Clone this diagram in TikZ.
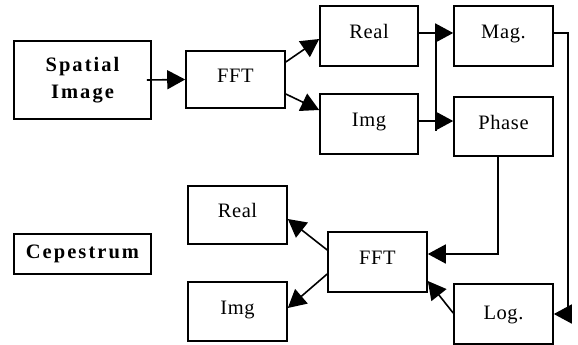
\documentclass[tikz,border=0pt]{standalone}
\usepackage{fontspec}
\setmainfont{Liberation Serif}[LetterSpace=3]
\newfontfamily\boldsp{Liberation Serif}[LetterSpace=10]
\usetikzlibrary{arrows.meta,calc}
\tikzset{
  box/.style={draw, line width=1.6pt, inner sep=0pt, text height=14pt, text depth=8.4pt,
    font=\fontsize{20.5}{27}\selectfont},
  bbox/.style={box, font=\boldsp\bfseries\fontsize{20.5}{27}\selectfont, align=center},
  conn/.style={line width=1.6pt, -{Triangle[length=18pt,width=19pt]}},
  plain/.style={line width=1.6pt}
}
\begin{document}
\begin{tikzpicture}[x=1pt,y=-1pt]
\useasboundingbox (0,0) rectangle (578,345);
\node[bbox, minimum width=137pt, minimum height=78pt, text height=, text depth=] (spatial) at (82.5,80) {Spatial\\Image};
\node[box, minimum width=99pt, minimum height=57pt] (fft1) at (235.5,79.5) {FFT};
\node[box, minimum width=98pt, minimum height=60pt] (real1) at (369,36) {Real};
\node[box, minimum width=99pt, minimum height=60pt] (mag) at (503.5,36) {Mag.};
\node[box, minimum width=98pt, minimum height=60pt] (img1) at (369,124) {Img};
\node[box, minimum width=99pt, minimum height=59pt] (phase) at (503.5,126.5) {Phase};
\node[box, minimum width=99pt, minimum height=58pt] (real2) at (237.5,215) {Real};
\node[box, minimum width=99pt, minimum height=59pt] (img2) at (237.5,311.5) {Img};
\node[bbox, minimum width=137pt, minimum height=40pt, text height=14pt, text depth=5pt] (cep) at (82.5,254) {Cepestrum};
\node[box, minimum width=99pt, minimum height=60pt] (fft2) at (377.5,262) {FFT};
\node[box, minimum width=99pt, minimum height=60pt, text height=14pt, text depth=4pt] (log) at (503.5,314) {Log.};
% connectors
\draw[conn] ([xshift=-5pt]spatial.east) -- (fft1.west);
\draw[conn] ([yshift=17.5pt]fft1.east) -- ([yshift=-3pt]real1.west);
\draw[conn] ([yshift=-14.5pt]fft1.east) -- ([yshift=14pt]img1.west);
\draw[conn] ([yshift=3pt]real1.east) -- ([yshift=3pt]mag.west);
\draw[conn] ([yshift=3pt]img1.east) -- ([yshift=5.5pt]phase.west);
\coordinate (j1) at ($([yshift=3pt]real1.east)!0.5!([yshift=3pt]mag.west)$);
\coordinate (j2) at ($([yshift=-6pt]phase.west)!0.5!([yshift=-6pt]img1.east)$);
\draw[plain] (j1) -- (j1 |- j2);
\draw[conn] ([yshift=3pt]mag.east) -- ++(14,0) |- (log.east);
\draw[conn] ([xshift=-5.5pt]phase.south) |- ([yshift=8pt]fft2.east);
\draw[conn] ([yshift=1pt]log.west) -- ([yshift=-19pt]fft2.east);
\draw[conn] ([yshift=12pt]fft2.west) -- ([yshift=-4pt]real2.east);
\draw[conn] ([yshift=-12pt]fft2.west) -- ([yshift=3.5pt]img2.east);
\end{tikzpicture}
\end{document}
